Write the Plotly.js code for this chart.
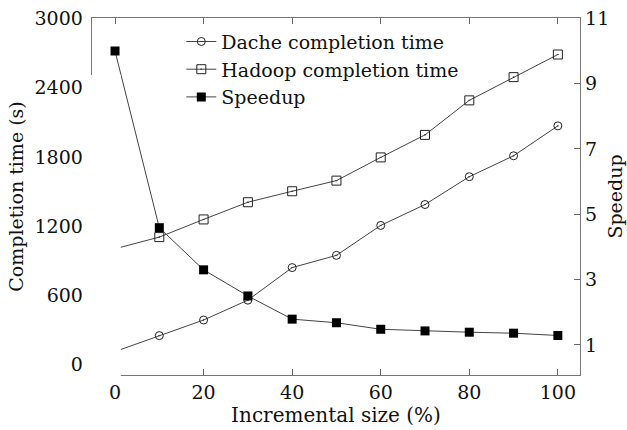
<!DOCTYPE html>
<html>
<head>
<meta charset="utf-8">
<script src="https://cdn.plot.ly/plotly-3.0.1.min.js"></script>
<style>html,body{margin:0;padding:0;background:#fff;}#chart{width:627px;height:430px;}</style>
</head>
<body>
<div id="chart"></div>
<script>
var sizes = [0, 10, 20, 30, 40, 50, 60, 70, 80, 90, 100];
var dacheTime = [115, 253, 388, 560, 842, 948, 1207, 1388, 1629, 1810, 2069];
var hadoopTime = [1005, 1106, 1259, 1408, 1503, 1595, 1796, 1991, 2290, 2491, 2687];
var speedup = [10.0, 4.59, 3.30, 2.50, 1.79, 1.68, 1.48, 1.43, 1.39, 1.36, 1.29];
var leftTicks = [0, 600, 1200, 1800, 2400, 3000];
var rightTicks = [1, 3, 5, 7, 9, 11];
var xTicks = [0, 20, 40, 60, 80, 100];

var FONT = 'DejaVu Serif';
var lineCol = '#444';

var traces = [
  {x: sizes, y: dacheTime, name: 'Dache completion time', type: 'scatter', mode: 'lines+markers',
   line: {color: lineCol, width: 1}, marker: {symbol: 'circle-open-dot', size: 8, color: '#222', line: {width: 1}}},
  {x: sizes, y: hadoopTime, name: 'Hadoop completion time', type: 'scatter', mode: 'lines+markers',
   line: {color: lineCol, width: 1}, marker: {symbol: 'square-open-dot', size: 9, color: '#222', line: {width: 1}}},
  {x: sizes, y: speedup, name: 'Speedup', yaxis: 'y2', type: 'scatter', mode: 'lines+markers',
   line: {color: lineCol, width: 1}, marker: {symbol: 'square', size: 9, color: '#000'}}
];

var layout = {
  width: 627, height: 430,
  margin: {l: 92, r: 47, t: 18, b: 55},
  paper_bgcolor: '#fff', plot_bgcolor: '#fff',
  font: {family: FONT, size: 18, color: '#111'},
  showlegend: true,
  legend: {x: 0.183, y: 0.987, xanchor: 'left', yanchor: 'top', bgcolor: 'rgba(0,0,0,0)',
           font: {family: FONT, size: 19, color: '#111'}, tracegroupgap: 0},
  xaxis: {range: [-5.2, 105], tickvals: xTicks, ticks: 'inside', ticklen: 6, tickcolor: '#666',
          showline: true, linecolor: '#777', linewidth: 1.3, mirror: 'ticks', showgrid: false, zeroline: false,
          title: {text: 'Incremental size (%)', font: {family: FONT, size: 20}, standoff: 2},
          tickfont: {family: FONT, size: 19}},
  yaxis: {range: [-88, 3003], tickvals: leftTicks, ticks: '', showline: true, linecolor: '#777', linewidth: 1.3,
          showgrid: false, zeroline: false, ticklabelstandoff: 4,
          title: {text: 'Completion time (s)', font: {family: FONT, size: 19}, standoff: 6},
          tickfont: {family: FONT, size: 19}},
  yaxis2: {range: [0.08, 11.01], tickvals: rightTicks, overlaying: 'y', side: 'right', ticks: 'inside', ticklen: 6,
           tickcolor: '#666', showline: true, linecolor: '#777', linewidth: 1.3, showgrid: false, zeroline: false,
           title: {text: 'Speedup', font: {family: FONT, size: 19}, standoff: 0},
           tickfont: {family: FONT, size: 19}},
  shapes: [
    {type: 'rect', xref: 'paper', yref: 'paper', x0: -0.02, x1: 0.059, y0: -0.012, y1: 0.84, layer: 'above',
     fillcolor: '#fff', line: {width: 0}}
  ]
};

Plotly.newPlot('chart', traces, layout, {displayModeBar: false, staticPlot: true});
</script>
</body>
</html>
